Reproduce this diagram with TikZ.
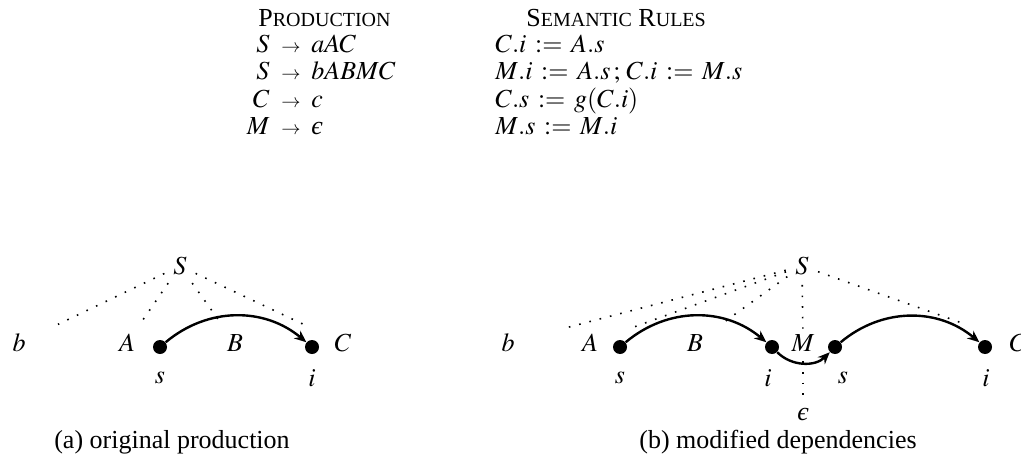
\documentclass[tikz,border=0pt]{standalone}
\usepackage{amsmath}
\usepackage{mathptmx}
\usepackage{fontspec}
\setmainfont{Liberation Serif}
\usepackage{tikz}
\usetikzlibrary{arrows.meta, positioning}
\newcommand{\eps}{\textit{є}}
\newcommand{\asg}{\mathrel{\,:=\,}}
\tikzset{
  lab/.style={inner sep=0pt, outer sep=0pt},
  row/.style={inner sep=1pt, anchor=base west},
  attr/.style={circle, fill, inner sep=0pt, minimum size=7pt},
  tree/.style={line width=0.8pt, dash pattern=on 0.8pt off 4.5pt, shorten <=5pt},
  dep/.style={-{Stealth[length=6pt, width=5pt]}, line width=1.2pt},
  every node/.style={font=\fontsize{13}{15}\selectfont}
}
\newcommand{\hdsc}[2]{#1{\fontsize{10}{12}\selectfont #2}}

\begin{document}
\begin{tikzpicture}[x=0.5pt,y=-0.5pt]
    \useasboundingbox (0,0) rectangle (1021,465);
    % table of productions and rules
    \node[row] (prodhead) at (256,27) {\hdsc{P}{RODUCTION}};
    \node[row] (semhead) at (524,27) {\hdsc{S}{EMANTIC} \hdsc{R}{ULES}};
    \foreach \y/\lhs/\rhs/\sem in {53/S/aAC/{C.i \asg A.s},
        80/S/bABMC/{M.i \asg A.s\,;\, C.i \asg M.s},
        107/C/c/{C.s \asg g(C.i)},
        134/M/\eps/{M.s \asg M.i}}{
        \node[row, anchor=base east] (lhs\y) at (272,\y) {$\lhs$};
        \node[row, anchor=base] (arr\y) at (291,\y) {$\scriptstyle\rightarrow$};
        \node[row] (rhs\y) at (309,\y) {$\rhs$};
        \node[row] (sem\y) at (493,\y) {$\sem$};
    }
    % (a) original production
    \node[lab] (Sa) at (180,266) {$S$};
    \node[lab] (ba) at (19,343) {$b$};
    \node[lab] (Aa) at (127,343) {$A$};
    \node[attr] (Asa) at (160,347) {};
    \node[lab] (Ba) at (235,343) {$B$};
    \node[attr] (Cia) at (312,347) {};
    \node[lab] (Ca) at (343,343) {$C$};
    \node[lab] (sa) at (160,378) {$s$};
    \node[lab] (ia) at (312,378) {$i$};
    \draw[tree, shorten >=18pt] (Sa) -- (ba);
    \draw[tree, shorten >=9pt] (Sa) -- (Aa);
    \draw[tree, shorten >=9pt] (Sa) -- (Ba);
    \draw[tree, shorten >=16pt] (Sa) -- (Ca);
    \draw[dep] (Asa) to[bend left=40] (Cia);
    \node (capa) at (172,442) {(a) original production};
    % (b) modified dependencies
    \node[lab] (Sb) at (802,266) {$S$};
    \node[lab] (bb) at (508,343) {$b$};
    \node[lab] (Ab) at (590,343) {$A$};
    \node[attr] (Asb) at (620,347) {};
    \node[lab] (Bb) at (695,343) {$B$};
    \node[attr] (Mib) at (772,347) {};
    \node[lab] (Mb) at (803,343) {$M$};
    \node[attr] (Msb) at (835,347) {};
    \node[attr] (Cib) at (985,347) {};
    \node[lab] (Cb) at (1018,343) {$C$};
    \node[lab] (s1b) at (620,378) {$s$};
    \node[lab] (i1b) at (768,378) {$i$};
    \node[lab] (s2b) at (843,378) {$s$};
    \node[lab] (i2b) at (986,378) {$i$};
    \node[lab] (epsb) at (803,414) {\eps};
    \draw[tree, shorten >=24pt] (Sb) -- (bb);
    \draw[tree, shorten >=16pt] (Sb) -- (Ab);
    \draw[tree, shorten >=13pt] (Sb) -- (Bb);
    \draw[tree, shorten >=26pt] (Sb) -- (Cb);
    \draw[tree, shorten >=3pt] (Sb) -- (Mb);
    \draw[tree, shorten >=3pt] (Mb) -- (epsb);
    \draw[dep] (Asb) to[bend left=40] (Mib);
    \draw[dep] (Mib) to[bend right=45] (Msb);
    \draw[dep] (Msb) to[bend left=40] (Cib);
    \node (capb) at (778,442) {(b) modified dependencies};
\end{tikzpicture}
\end{document}
